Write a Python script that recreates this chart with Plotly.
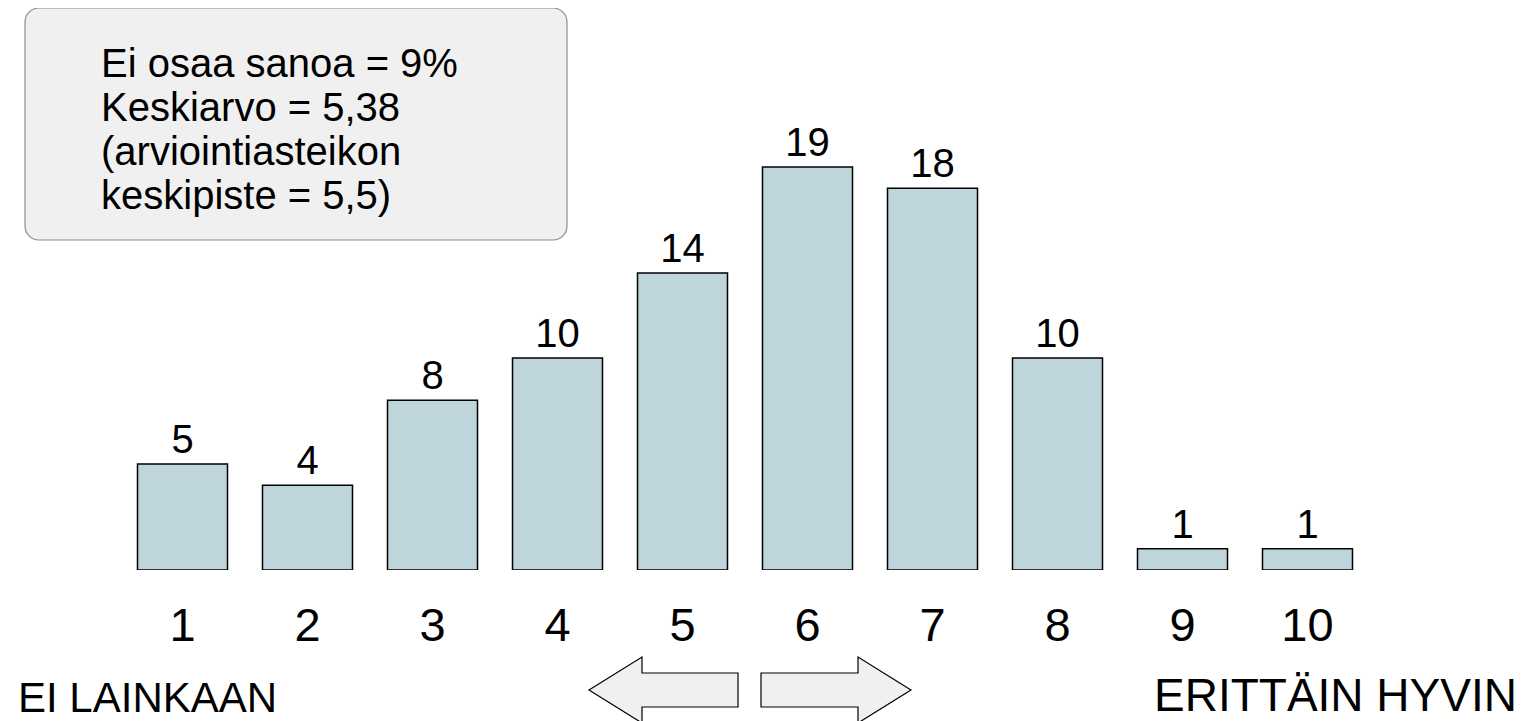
import plotly.graph_objects as go

categories = ["1", "2", "3", "4", "5", "6", "7", "8", "9", "10"]
values = [5, 4, 8, 10, 14, 19, 18, 10, 1, 1]
info_lines = ["Ei osaa sanoa = 9%", "Keskiarvo = 5,38", "(arviointiasteikon", "keskipiste = 5,5)"]
left_label = "EI LAINKAAN"
right_label = "ERITTÄIN HYVIN"

OFF = 8  # page body margin
W, H = 1526 - OFF, 721 - OFF
L, R, T, B = 112, 156, 142, 151
PW, PH = W - L - R, H - T - B
FONT = "Liberation Sans, Arial, sans-serif"


def px(x):
    return (x - OFF - L) / PW


def py(y):
    return (H - B - (y - OFF)) / PH


def path(points):
    return "M " + " L ".join(f"{px(x):.5f},{py(y):.5f}" for x, y in points) + " Z"


def rounded_rect(x0, y0, x1, y1, r):
    k = 0.45 * r
    pts = [
        ("M", x0 + r, y0), ("L", x1 - r, y0), ("C", (x1 - k, y0), (x1, y0 + k), (x1, y0 + r)),
        ("L", x1, y1 - r), ("C", (x1, y1 - k), (x1 - k, y1), (x1 - r, y1)),
        ("L", x0 + r, y1), ("C", (x0 + k, y1), (x0, y1 - k), (x0, y1 - r)),
        ("L", x0, y0 + r), ("C", (x0, y0 + k), (x0 + k, y0), (x0 + r, y0)),
    ]
    s = []
    for p in pts:
        if p[0] in ("M", "L"):
            s.append(f"{p[0]} {px(p[1]):.5f},{py(p[2]):.5f}")
        else:
            s.append("C " + " ".join(f"{px(a):.5f},{py(b):.5f}" for a, b in p[1:]))
    return " ".join(s) + " Z"


fig = go.Figure(
    go.Bar(
        x=categories,
        y=values,
        width=0.72,
        marker=dict(color="#BED6DB", line=dict(color="#000000", width=1.5)),
        text=[str(v) for v in values],
        textposition="outside",
        textfont=dict(size=40, color="#000000", family=FONT),
        cliponaxis=False,
    )
)

shapes = [
    dict(type="path", xref="paper", yref="paper", path=rounded_rect(25, 8, 567, 240, 14),
         fillcolor="#F0F0F0", line=dict(color="#8C8C8C", width=1.2), layer="below"),
    dict(type="path", xref="paper", yref="paper",
         path=path([(589, 690), (642, 657), (642, 673), (738, 673), (738, 707), (642, 707), (642, 723)]),
         fillcolor="#F0F0F0", line=dict(color="#000000", width=1.2)),
    dict(type="path", xref="paper", yref="paper",
         path=path([(761, 673), (858, 673), (858, 657), (911, 690), (858, 723), (858, 707), (761, 707)]),
         fillcolor="#F0F0F0", line=dict(color="#000000", width=1.2)),
]

annotations = []
for i, line in enumerate(info_lines):
    annotations.append(dict(xref="paper", yref="paper", x=px(99), y=py(63 + 44 * i), text=line,
                            showarrow=False, xanchor="left", yanchor="middle",
                            font=dict(size=40, color="#000000", family=FONT)))
annotations.append(dict(xref="paper", yref="paper", x=px(16), y=py(697), text=left_label,
                        showarrow=False, xanchor="left", yanchor="middle",
                        font=dict(size=42, color="#000000", family=FONT)))
annotations.append(dict(xref="paper", yref="paper", x=px(1519), y=py(695), text=right_label,
                        showarrow=False, xanchor="right", yanchor="middle",
                        font=dict(size=46, color="#000000", family=FONT)))

fig.update_layout(
    width=W, height=H,
    margin=dict(l=L, r=R, t=T, b=B, pad=0),
    paper_bgcolor="white", plot_bgcolor="white",
    showlegend=False,
    shapes=shapes,
    annotations=annotations,
    font=dict(family=FONT, color="#000000"),
    bargap=0.28,
)
fig.update_xaxes(type="category", range=[-0.5, 9.5], showgrid=False, showline=False, zeroline=False,
                 ticks="", tickfont=dict(size=47, color="#000000", family=FONT), ticklabelstandoff=23)
fig.update_yaxes(range=[0, 19.8], visible=False, showgrid=False, zeroline=False)

fig.write_html("out.html")
